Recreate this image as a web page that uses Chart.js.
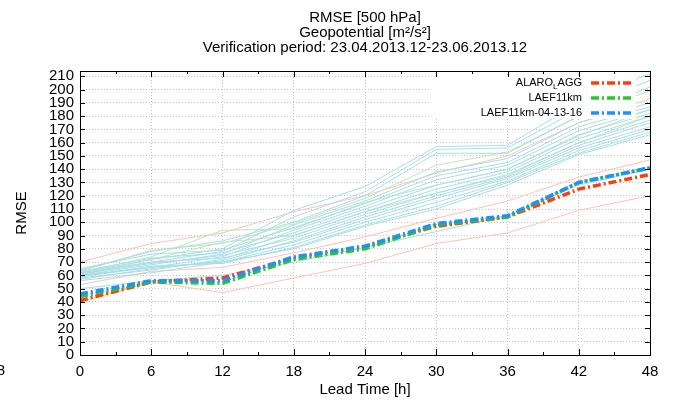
<!DOCTYPE html>
<html>
<head>
<meta charset="utf-8">
<script src="https://cdn.jsdelivr.net/npm/chart.js@4"></script>
<style>
  body { margin: 0; background: #fff; }
  #wrap { width: 676px; height: 405px; }
</style>
</head>
<body>
<div id="wrap"><canvas id="myChart" width="676" height="405"></canvas></div>
<script>
const hours = [0, 6, 12, 18, 24, 30, 36, 42, 48];
const yTicks = [0, 10, 20, 30, 40, 50, 60, 70, 80, 90, 100, 110, 120, 130, 140, 150, 160, 170, 180, 190, 200, 210];

// main series
const alaro = [41, 55, 58, 73, 82, 97, 104, 125, 136];
const laef = [44, 55, 54, 72, 80, 98, 104, 130, 141];
const laef041316 = [46, 56, 56, 74, 82, 99, 105, 130, 141];

// thin background members
const cyanMembers = [
  [62, 72, 80, 109, 127, 157, 158, 190, 212],
  [61, 70, 78, 104, 123, 155, 156, 185, 207],
  [64, 78, 86, 100, 120, 152, 152, 180, 202],
  [60, 68, 76, 98, 116, 138, 148, 175, 190],
  [65, 76, 79, 96, 114, 135, 145, 172, 187],
  [59, 66, 74, 94, 112, 132, 143, 169, 185],
  [63, 73, 77, 92, 110, 128, 140, 166, 182],
  [58, 64, 72, 90, 108, 125, 138, 163, 180],
  [61, 69, 75, 88, 106, 122, 136, 160, 177],
  [57, 65, 71, 86, 104, 120, 134, 158, 175],
  [62, 70, 73, 85, 102, 118, 133, 156, 172],
  [60, 66, 70, 83, 100, 115, 131, 154, 170],
  [59, 67, 69, 81, 98, 112, 130, 152, 168],
  [56, 62, 70, 80, 97, 110, 128, 151, 166],
  [50, 56, 60, 70, 81, 93, 105, 128, 140],
];
const greenMembers = [
  [63, 79, 84, 99, 118, 143, 153, 180, 199],
  [62, 74, 94, 95, 115, 128, 140, 165, 185],
  [60, 72, 85, 90, 108, 122, 135, 160, 180],
];
const pinkMembers = [
  [70, 84, 92, 108, 120, 137, 150, 175, 193],
  [53, 63, 66, 77, 89, 103, 116, 134, 147],
  [40, 55, 47, 58, 69, 84, 92, 109, 120],
];

const legendNames = ["ALARO_LAGG", "LAEF11km", "LAEF11km-04-13-16"];
const mainColors = ["#ff3b10", "#2ec42e", "#1e90ff"];
const mainDash = [8, 3, 2, 3];

const toPoints = (arr) => arr.map((v, i) => ({ x: hours[i], y: v }));

// Chart.js paints dataset 0 last (on top), so build bottom-up then reverse
const datasets = [];
pinkMembers.forEach((m) => datasets.push({ data: toPoints(m), borderColor: "#fbc3b6", borderWidth: 1 }));
greenMembers.forEach((m) => datasets.push({ data: toPoints(m), borderColor: "#bfe6b8", borderWidth: 1 }));
cyanMembers.forEach((m) => datasets.push({ data: toPoints(m), borderColor: "#a8dde6", borderWidth: 1 }));
[alaro, laef, laef041316].forEach((m, i) => {
  datasets.push({
    data: toPoints(m),
    borderColor: mainColors[i],
    borderWidth: 3.5,
    borderDash: mainDash,
  });
});
datasets.reverse();

const FONT = "'Liberation Sans', Arial, sans-serif";

const framePlugin = {
  id: "frame",
  afterDatasetsDraw(chart) {
    const { ctx, chartArea: a, scales } = chart;
    ctx.save();
    // legend box
    ctx.fillStyle = "#fff";
    ctx.fillRect(430, 76, 206, 43);
    ctx.font = "11px " + FONT;
    ctx.textBaseline = "middle";
    ctx.fillStyle = "#000";
    legendNames.forEach((name, i) => {
      const y = 83 + i * 15;
      const xr = 582;
      ctx.textAlign = "right";
      if (name === "ALARO_LAGG") {
        ctx.font = "11px " + FONT;
        const wA = ctx.measureText("AGG").width;
        ctx.fillText("AGG", xr, y);
        ctx.font = "8px " + FONT;
        const wL = ctx.measureText("L").width;
        ctx.fillText("L", xr - wA, y + 4);
        ctx.font = "11px " + FONT;
        ctx.fillText("ALARO", xr - wA - wL, y);
      } else {
        ctx.fillText(name, xr, y);
      }
      ctx.strokeStyle = mainColors[i];
      ctx.lineWidth = 3.5;
      ctx.setLineDash(mainDash);
      ctx.beginPath();
      ctx.moveTo(591, y);
      ctx.lineTo(634, y);
      ctx.stroke();
    });
    ctx.setLineDash([]);

    // frame
    ctx.strokeStyle = "#000";
    ctx.lineWidth = 1;
    ctx.strokeRect(a.left + 0.5, a.top + 0.5, a.right - a.left, a.bottom - a.top);

    // ticks inward
    ctx.beginPath();
    yTicks.forEach((v) => {
      const y = Math.round(scales.y.getPixelForValue(v)) + 0.5;
      ctx.moveTo(a.left, y); ctx.lineTo(a.left + 5, y);
      ctx.moveTo(a.right, y); ctx.lineTo(a.right - 5, y);
    });
    for (let h = 0; h <= 48; h += 3) {
      const x = Math.round(scales.x.getPixelForValue(h)) + 0.5;
      const len = h % 6 === 0 ? 6 : 3;
      ctx.moveTo(x, a.bottom); ctx.lineTo(x, a.bottom - len);
      ctx.moveTo(x, a.top); ctx.lineTo(x, a.top + len);
    }
    ctx.stroke();

    // titles
    ctx.fillStyle = "#000";
    ctx.textAlign = "center";
    ctx.textBaseline = "middle";
    const cx = (a.left + a.right) / 2;
    ctx.font = "15px " + FONT;
    ctx.fillText("RMSE [500 hPa]", cx, 18);
    ctx.fillText("Geopotential [m²/s²]", cx, 33);
    ctx.fillText("Verification period: 23.04.2013.12-23.06.2013.12", cx, 48);
    // clipped label at far left
    ctx.textAlign = "right";
    ctx.fillText("8", 5, 371);
    ctx.restore();
  },
};

new Chart(document.getElementById("myChart"), {
  type: "line",
  data: { datasets },
  options: {
    responsive: false,
    animation: false,
    layout: { padding: { top: 71, right: 26, left: 0, bottom: 0 } },
    elements: { point: { radius: 0 }, line: { tension: 0, fill: false } },
    plugins: { legend: { display: false }, title: { display: false }, tooltip: { enabled: false } },
    scales: {
      x: {
        type: "linear",
        min: 0,
        max: 48,
        afterFit: (s) => { s.height = 50; },
        ticks: { stepSize: 6, autoSkip: false, maxRotation: 0, color: "#000", padding: 8, font: { family: FONT, size: 15 } },
        grid: { color: "#c4c4c4", drawTicks: false },
        border: { display: false, dash: [1, 2] },
        title: { display: true, text: "Lead Time [h]", color: "#000", font: { family: FONT, size: 15 }, padding: { top: 2, bottom: 6 } },
      },
      y: {
        min: 0,
        max: 214,
        afterFit: (s) => { s.width = 80; },
        ticks: { stepSize: 10, autoSkip: false, includeBounds: false, color: "#000", padding: 6, font: { family: FONT, size: 15 } },
        grid: { color: "#c4c4c4", drawTicks: false },
        border: { display: false, dash: [1, 2] },
        title: { display: true, text: "RMSE", color: "#000", font: { family: FONT, size: 15 }, padding: { top: 13, bottom: 0 } },
      },
    },
  },
  plugins: [framePlugin],
});
</script>
</body>
</html>
